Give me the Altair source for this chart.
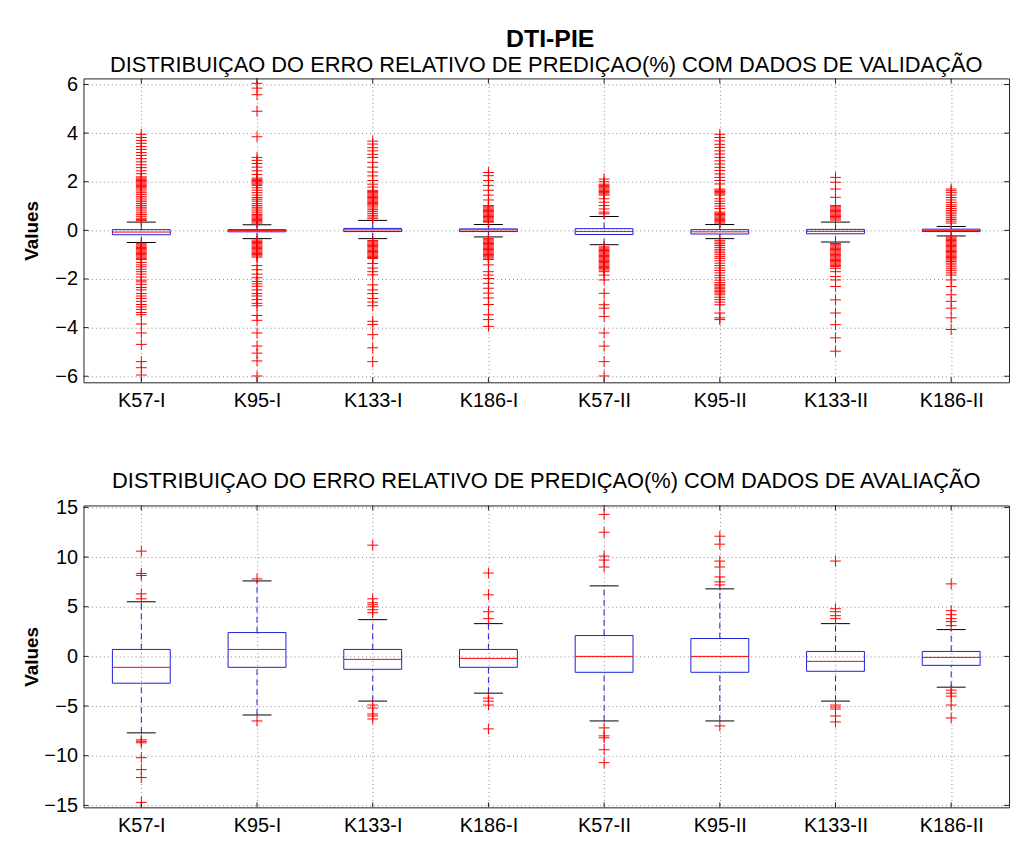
import altair as alt
import pandas as pd

categories = ["K57-I", "K95-I", "K133-I", "K186-I", "K57-II", "K95-II", "K133-II", "K186-II"]

# ---------- top panel: validation data ----------
val_q1 = [-0.18, -0.06, -0.05, -0.05, -0.17, -0.15, -0.14, -0.05]
val_median = [-0.07, -0.01, 0.02, 0.02, -0.05, -0.06, -0.04, 0.00]
val_q3 = [0.03, 0.03, 0.08, 0.06, 0.07, 0.03, 0.04, 0.05]
val_whisker_low = [-0.50, -0.34, -0.34, -0.27, -0.59, -0.34, -0.48, -0.23]
val_whisker_high = [0.34, 0.23, 0.41, 0.24, 0.57, 0.24, 0.34, 0.16]

val_out_k57_i = [3.95, 3.82, 3.70, 3.58, 3.45, 3.33, 3.20, 3.08, 2.95, 2.82, 2.70, 2.58, 2.45, 2.33,
                 2.20, 2.15, 2.10, 2.05, 2.00, 1.95, 1.90, 1.85, 1.80, 1.75, 1.70, 1.62, 1.55, 1.48,
                 1.40, 1.33, 1.25, 1.18, 1.10, 1.02, 0.95, 0.88, 0.80, 0.72, 0.65, 0.58, 0.50, 0.44, 0.40,
                 -0.55, -0.60, -0.65, -0.70, -0.75, -0.80, -0.85, -0.90, -0.95, -1.00, -1.05, -1.10,
                 -1.15, -1.20, -1.32, -1.42, -1.50, -1.60, -1.70, -1.80, -1.92, -2.05, -2.12, -2.22,
                 -2.35, -2.45, -2.60, -2.70, -2.80, -2.92, -3.05, -3.15, -3.25, -3.38, -3.47,
                 -3.85, -4.22, -4.69, -5.40, -5.65, -5.95]
val_out_k95_i = [6.05, 5.85, 5.58, 4.90, 3.85, 3.00, 2.88, 2.75, 2.60, 2.45, 2.30,
                 2.15, 2.10, 2.05, 2.00, 1.95, 1.90, 1.85, 1.75, 1.65, 1.55, 1.45, 1.35, 1.28,
                 1.20, 1.10, 1.02, 0.95, 0.88, 0.80, 0.72, 0.65, 0.60, 0.55, 0.50, 0.45, 0.40, 0.35, 0.30,
                 -0.40, -0.45, -0.50, -0.55, -0.60, -0.65, -0.70, -0.75, -0.80, -0.85, -0.90, -0.95,
                 -1.00, -1.05, -1.10, -1.45, -1.62, -1.80, -1.95, -2.10, -2.20, -2.30, -2.45, -2.60,
                 -2.70, -2.85, -3.00, -3.10, -3.50, -3.70, -4.22, -4.76, -5.05, -5.37, -5.99]
val_out_k133_i = [3.67, 3.55, 3.40, 3.27, 3.13, 3.00, 2.80, 2.60, 2.40, 2.24, 2.05, 1.90, 1.78,
                  1.65, 1.60, 1.55, 1.50, 1.45, 1.40, 1.35, 1.30, 1.25, 1.20, 1.15, 1.10, 1.05,
                  1.00, 0.92, 0.85, 0.78, 0.70, 0.62, 0.55, 0.48,
                  -0.42, -0.47, -0.52, -0.57, -0.62, -0.67, -0.72, -0.77, -0.82, -0.87, -0.92,
                  -0.97, -1.02, -1.07, -1.12, -1.16, -1.36, -1.55, -1.70, -1.83, -2.24, -2.45,
                  -2.60, -2.80, -2.95, -3.10, -3.74, -3.87, -4.29, -4.83, -5.40]
val_out_k186_i = [2.38, 2.25, 2.05, 1.85, 1.65, 1.45, 1.25, 1.02, 0.97, 0.92, 0.87, 0.82, 0.77,
                  0.72, 0.67, 0.62, 0.57, 0.52, 0.47, 0.42, 0.37, 0.34,
                  -0.34, -0.39, -0.44, -0.49, -0.54, -0.59, -0.64, -0.69, -0.74, -0.79, -0.84,
                  -0.89, -0.94, -0.99, -1.04, -1.09, -1.14, -1.20, -1.42, -1.70, -1.84, -1.98,
                  -2.18, -2.38, -2.58, -2.78, -3.05, -3.47, -3.67, -3.95]
val_out_k57_ii = [2.11, 2.00, 1.90, 1.85, 1.80, 1.75, 1.70, 1.65, 1.60, 1.55, 1.50, 1.45,
                  1.30, 1.16, 1.02, 0.88, 0.75, 0.68,
                  -0.68, -0.73, -0.78, -0.83, -0.88, -0.93, -0.98, -1.03, -1.08, -1.13, -1.18,
                  -1.23, -1.28, -1.33, -1.38, -1.43, -1.48, -1.53, -1.58, -1.63, -1.70,
                  -1.84, -2.04, -2.59, -3.06, -3.20, -3.54, -4.22, -4.76, -5.40, -5.99]
val_out_k95_ii = [3.95, 3.82, 3.68, 3.54, 3.41, 3.27, 3.14, 3.00, 2.86, 2.73, 2.59, 2.46, 2.32,
                  2.18, 2.05, 1.91, 1.70, 1.65, 1.60, 1.55, 1.50, 1.45, 1.30, 1.20, 1.10, 1.00,
                  0.90, 0.75, 0.70, 0.65, 0.60, 0.55, 0.50, 0.45, 0.40, 0.35, 0.30,
                  -0.41, -0.48, -0.55, -0.62, -0.70, -0.78, -0.85, -0.92, -1.00, -1.08, -1.15,
                  -1.25, -1.35, -1.45, -1.55, -1.65, -1.75, -1.85, -1.95, -2.05, -2.15, -2.22,
                  -2.28, -2.34, -2.40, -2.46, -2.52, -2.58, -2.65, -2.75, -2.85, -2.95, -3.06,
                  -3.40, -3.60, -3.67]
val_out_k133_ii = [2.18, 1.98, 1.70, 1.36, 1.02, 0.97, 0.92, 0.87, 0.82, 0.77, 0.72, 0.67, 0.62,
                   0.57, 0.52, 0.47, 0.42,
                   -0.54, -0.59, -0.64, -0.69, -0.74, -0.79, -0.84, -0.89, -0.94, -0.99, -1.04,
                   -1.09, -1.14, -1.19, -1.24, -1.29, -1.34, -1.39, -1.44, -1.49, -1.56,
                   -1.70, -1.90, -2.04, -2.31, -2.86, -3.40, -3.88, -4.42, -4.97]
val_out_k186_ii = [1.70, 1.63, 1.55, 1.45, 1.35, 1.25, 1.15, 1.05, 0.98, 0.90, 0.82, 0.75, 0.68,
                   0.60, 0.52, 0.45, 0.38, 0.30,
                   -0.27, -0.32, -0.37, -0.42, -0.47, -0.52, -0.57, -0.62, -0.67, -0.72, -0.77,
                   -0.82, -0.87, -0.92, -0.97, -1.02, -1.07, -1.12, -1.17, -1.22, -1.28, -1.35,
                   -1.42, -1.50, -1.58, -1.66, -1.75, -1.84, -2.04, -2.31, -2.65, -2.92, -3.20,
                   -3.60, -4.08]

# ---------- bottom panel: evaluation data ----------
eva_q1 = [-2.7, -1.1, -1.3, -1.1, -1.6, -1.6, -1.5, -0.9]
eva_median = [-1.1, 0.7, -0.3, -0.2, 0.0, 0.0, -0.5, -0.1]
eva_q3 = [0.7, 2.4, 0.7, 0.7, 2.1, 1.8, 0.5, 0.5]
eva_whisker_low = [-7.7, -5.9, -4.5, -3.7, -6.5, -6.5, -4.5, -3.1]
eva_whisker_high = [5.5, 7.6, 3.7, 3.3, 7.1, 6.8, 3.3, 2.7]

eva_out_k57_i = [10.6, 8.35, 8.15, 6.3, 5.8, -8.4, -8.55, -8.7, -10.2, -11.4, -12.2, -14.7]
eva_out_k95_i = [7.8, -6.5]
eva_out_k133_i = [11.2, 5.8, 5.4, 5.2, 5.0, 4.7, 4.4, -4.9, -5.2, -5.8, -6.0, -6.3]
eva_out_k186_i = [8.4, 6.2, 4.5, 3.8, -4.2, -4.5, -4.9, -7.3]
eva_out_k57_ii = [14.3, 12.5, 10.1, 9.7, 9.0, -7.2, -8.0, -8.2, -9.4, -10.7]
eva_out_k95_ii = [12.1, 11.3, 9.6, 9.0, 8.0, 7.5, 7.2, -7.0]
eva_out_k133_ii = [9.6, 4.8, 4.5, 4.1, 3.8, -4.9, -5.1, -5.3, -6.0, -6.6]
eva_out_k186_ii = [7.3, 4.6, 4.2, 3.8, 3.5, 3.1, -3.4, -3.7, -4.0, -4.9, -6.2]

main_title = "DTI-PIE"
val_title = "DISTRIBUIÇAO DO ERRO RELATIVO DE PREDIÇAO(%) COM DADOS DE VALIDAÇÃO"
eva_title = "DISTRIBUIÇAO DO ERRO RELATIVO DE PREDIÇAO(%) COM DADOS DE AVALIAÇÃO"

FONT = "Liberation Sans"
BLUE = "#1f1fd6"
FRAME = "#222222"
PLUS = "M-1,0L1,0M0,-1L0,1"
PLOT_W = 932
TICK_LEN = 5


def make_panel(q1, med, q3, wlo, whi, outs, ydomain, yticks, height, title):
    stats = pd.DataFrame({"pos": list(range(1, 9)), "cat": categories, "q1": q1, "median": med,
                          "q3": q3, "wlo": wlo, "whi": whi})
    rows = []
    for i, vals in enumerate(outs):
        for v in vals:
            rows.append({"pos": i + 1, "value": v})
    outdf = pd.DataFrame(rows)
    ytick_df = pd.DataFrame({"t": yticks})

    xscale = alt.Scale(domain=[0.5, 8.5], nice=False, zero=False)
    yscale = alt.Scale(domain=ydomain, nice=False, zero=False)
    label_expr = "[" + ",".join("'" + c + "'" for c in categories) + "][datum.value - 1]"
    xaxis = alt.Axis(values=list(range(1, 9)), labelExpr=label_expr, title=None, grid=True,
                     ticks=False, domain=False, labelPadding=8)
    yaxis = alt.Axis(values=yticks, title="Values", grid=True, ticks=False, domain=False,
                     labelPadding=6, titleX=-52, titleBaseline="middle", titleAlign="center")

    def X(f):
        return alt.X(f, scale=xscale, axis=xaxis)

    def Y(f):
        return alt.Y(f, scale=yscale, axis=yaxis)

    base = alt.Chart(stats).transform_calculate(
        left="datum.pos - 0.25", right="datum.pos + 0.25",
        cleft="datum.pos - 0.125", cright="datum.pos + 0.125")

    whisk_hi = base.mark_rule(color=BLUE, strokeDash=[6, 4], strokeWidth=1).encode(
        x=X("pos:Q"), y=Y("q3:Q"), y2="whi:Q")
    whisk_lo = base.mark_rule(color=BLUE, strokeDash=[6, 4], strokeWidth=1).encode(
        x=X("pos:Q"), y=Y("wlo:Q"), y2="q1:Q")
    box = base.mark_rect(fill="transparent", stroke=BLUE, strokeWidth=1).encode(
        x=X("left:Q"), x2="right:Q", y=Y("q1:Q"), y2="q3:Q")
    median = base.mark_rule(color="#ff0000", strokeWidth=1).encode(
        x=X("left:Q"), x2="right:Q", y=Y("median:Q"))
    cap_hi = base.mark_rule(color="black", strokeWidth=1).encode(
        x=X("cleft:Q"), x2="cright:Q", y=Y("whi:Q"))
    cap_lo = base.mark_rule(color="black", strokeWidth=1).encode(
        x=X("cleft:Q"), x2="cright:Q", y=Y("wlo:Q"))
    pts = alt.Chart(outdf).mark_point(shape=PLUS, size=120, filled=False, color="#ff0000",
                                      strokeWidth=1, opacity=1).encode(
        x=X("pos:Q"), y=Y("value:Q"))

    # inward tick marks on all four sides (MATLAB style)
    yt_left = alt.Chart(ytick_df).mark_rule(color=FRAME, strokeWidth=1).encode(
        y=Y("t:Q"), x=alt.value(0), x2=alt.value(TICK_LEN))
    yt_right = alt.Chart(ytick_df).mark_rule(color=FRAME, strokeWidth=1).encode(
        y=Y("t:Q"), x=alt.value(PLOT_W - TICK_LEN), x2=alt.value(PLOT_W))
    xt_bottom = base.mark_rule(color=FRAME, strokeWidth=1).encode(
        x=X("pos:Q"), y=alt.value(height - TICK_LEN), y2=alt.value(height))
    xt_top = base.mark_rule(color=FRAME, strokeWidth=1).encode(
        x=X("pos:Q"), y=alt.value(0), y2=alt.value(TICK_LEN))

    return alt.layer(whisk_hi, whisk_lo, box, median, cap_hi, cap_lo, pts,
                     yt_left, yt_right, xt_bottom, xt_top).properties(
        width=PLOT_W, height=height, title=title)


top = make_panel(val_q1, val_median, val_q3, val_whisker_low, val_whisker_high,
                 [val_out_k57_i, val_out_k95_i, val_out_k133_i, val_out_k186_i,
                  val_out_k57_ii, val_out_k95_ii, val_out_k133_ii, val_out_k186_ii],
                 [-6.25, 6.25], [-6, -4, -2, 0, 2, 4, 6], 306,
                 alt.TitleParams(text=val_title, fontSize=22, fontWeight="normal",
                                 anchor="middle", offset=-2))
bottom = make_panel(eva_q1, eva_median, eva_q3, eva_whisker_low, eva_whisker_high,
                    [eva_out_k57_i, eva_out_k95_i, eva_out_k133_i, eva_out_k186_i,
                     eva_out_k57_ii, eva_out_k95_ii, eva_out_k133_ii, eva_out_k186_ii],
                    [-15.2, 15.2], [-15, -10, -5, 0, 5, 10, 15], 304,
                    alt.TitleParams(text=eva_title, fontSize=22, fontWeight="normal",
                                    anchor="middle", offset=5))

chart = alt.vconcat(top, bottom, spacing=58).properties(
    title=alt.TitleParams(text=main_title, fontSize=25, fontWeight="bold", anchor="middle",
                          frame="group", dx=4, offset=1),
    padding={"left": 14, "top": 16, "right": 5, "bottom": 5}
).configure_view(stroke=FRAME, strokeWidth=1).configure_axis(
    gridColor="#888888", gridDash=[1, 3], gridOpacity=1, gridWidth=1,
    labelFont=FONT, labelFontSize=20, labelColor="black",
    titleFont=FONT, titleFontSize=19, titleFontWeight="bold", titleColor="black"
).configure_title(font=FONT, color="black")

chart.save("out.html", embed_options={"renderer": "svg", "actions": False})
